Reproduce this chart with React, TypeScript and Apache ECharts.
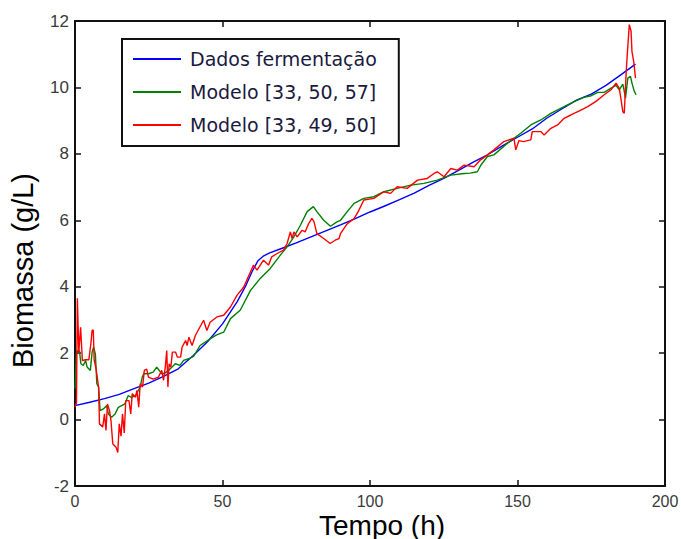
import React, { useEffect, useRef } from "react";
import * as echarts from "echarts";

const seriesNames = ["Dados fermentação", "Modelo [33, 50, 57]", "Modelo [33, 49, 50]"];
const xTicks = [0, 50, 100, 150, 200];
const yTicks = [-2, 0, 2, 4, 6, 8, 10, 12];

const blueT = [0, 5, 10, 15, 20, 25, 30, 35, 40, 45, 50, 55, 58, 60, 62, 64, 66, 70, 75, 80, 85, 90, 95, 100, 105, 110, 115, 120, 125, 130, 135, 140, 145, 150, 155, 160, 165, 170, 175, 180, 185, 190];
const blueY = [0.42, 0.52, 0.63, 0.76, 0.93, 1.1, 1.3, 1.53, 1.92, 2.35, 2.88, 3.55, 4.05, 4.45, 4.78, 4.93, 5.02, 5.15, 5.32, 5.5, 5.68, 5.86, 6.05, 6.25, 6.43, 6.62, 6.82, 7.05, 7.26, 7.5, 7.75, 7.98, 8.25, 8.5, 8.75, 9.08, 9.35, 9.62, 9.8, 10.06, 10.38, 10.7];

const greenT = [0, 0.5, 1.5, 2, 2.8, 3.6, 4.1, 5.2, 5.8, 6.3, 6.9, 7.4, 8, 8.5, 9.6, 10.8, 11.3, 12.4, 13.6, 14.7, 15.8, 16.9, 18, 19.2, 20.5, 21.5, 22.1, 22.8, 23.3, 24.9, 26.5, 27.7, 29.4, 30.5, 31.7, 34, 35.6, 36.8, 38.5, 40.2, 42.4, 45.8, 48, 50.4, 52.7, 56, 59.5, 62.8, 66.2, 69.6, 71.9, 74.2, 76.4, 78.7, 80.8, 82, 84.3, 86.6, 88.8, 90, 92.3, 94.6, 97.9, 101.3, 104.7, 109.2, 113.8, 118.3, 122.8, 127.4, 131.9, 134, 136.4, 137.5, 139.8, 142, 146.6, 148.8, 151.1, 154.5, 157.9, 161.3, 165.8, 169.2, 172.5, 175, 177.2, 179.4, 181.7, 183.4, 184.5, 185.7, 186.2, 186.6, 187.4, 188.3, 188.8, 189.6, 190.2];
const greenY = [0.93, 2.05, 2.08, 1.68, 1.63, 1.78, 1.58, 1.48, 2.03, 2.18, 1.98, 1.08, 0.98, 0.27, 0.32, 0.42, 0.17, 0.07, 0.17, 0.37, 0.42, 0.47, 0.72, 0.67, 0.72, 0.88, 0.98, 1.28, 1.38, 1.38, 1.43, 1.58, 1.38, 1.4, 1.48, 1.68, 1.63, 1.78, 1.83, 1.9, 2.23, 2.43, 2.55, 2.63, 3.04, 3.29, 3.89, 4.25, 4.55, 4.95, 5.2, 5.5, 5.85, 6.26, 6.41, 6.26, 6.0, 5.82, 5.95, 6.0, 6.26, 6.51, 6.66, 6.71, 6.86, 6.96, 7.06, 7.11, 7.21, 7.36, 7.41, 7.42, 7.46, 7.65, 7.92, 7.97, 8.32, 8.47, 8.62, 8.87, 9.02, 9.22, 9.42, 9.57, 9.7, 9.75, 9.85, 9.85, 9.98, 10.06, 9.93, 10.1, 9.88, 9.68, 10.28, 10.33, 10.13, 9.88, 9.78];

const redT = [0, 0.5, 0.8, 1.3, 1.9, 2.5, 3.6, 4.7, 5.4, 5.8, 6.2, 6.5, 7.2, 8, 8.3, 9.4, 10, 10.5, 11, 11.7, 12.2, 12.8, 13.9, 14.5, 15, 15.6, 16.1, 16.7, 17.2, 18.3, 18.9, 19.4, 20.5, 21, 21.6, 22.1, 22.9, 23.5, 24.3, 24.9, 26.5, 28.3, 29.4, 30, 30.6, 31.1, 31.5, 31.9, 32.5, 33, 34.1, 34.7, 35.8, 36.3, 37.5, 38, 38.6, 39.7, 40.8, 43.6, 44.7, 45.8, 48.1, 50.4, 52.7, 54.9, 57.2, 59.5, 60.5, 61.7, 63.9, 65.6, 66.7, 68.5, 70.7, 71.9, 73, 73.6, 74.2, 75.3, 77, 78, 79.2, 80.3, 81, 82, 84.3, 86.5, 88.2, 89.5, 90, 92.3, 94.6, 96, 97.9, 101.3, 104.7, 107, 109.2, 112.6, 116.1, 119.4, 121.7, 122.8, 125.1, 127.4, 129.6, 131.9, 135.3, 137.5, 139.8, 142, 145.4, 148.8, 149.4, 150.5, 152, 154.5, 155, 157.9, 159, 161.3, 163.6, 165.8, 168.1, 171.5, 173.8, 176.6, 179.4, 181.7, 183.4, 184.5, 185.1, 185.7, 186.2, 186.8, 187.2, 187.9, 188.5, 188.8, 189.4, 190];
const redY = [0.37, 0.5, 3.65, 2.03, 2.78, 1.78, 1.8, 1.8, 2.3, 2.69, 2.69, 1.8, 1.5, 0.97, -0.13, -0.22, 0.17, -0.33, 0.47, 0.27, -0.03, -0.73, -0.83, -0.99, -0.13, -0.5, 0.17, -0.4, 0.57, 0.57, 0.17, 0.78, 0.67, 0.88, 0.37, 1.08, 0.98, 1.48, 1.52, 1.28, 1.22, 1.28, 1.48, 1.18, 1.58, 2.08, 0.98, 1.68, 1.58, 2.03, 2.03, 1.88, 1.88, 2.18, 2.38, 2.23, 2.48, 2.23, 2.53, 2.99, 2.68, 2.93, 3.09, 3.14, 3.39, 3.74, 3.99, 4.45, 4.65, 4.5, 4.8, 4.65, 4.9, 5.0, 5.1, 5.3, 5.65, 5.45, 5.65, 5.5, 5.7, 5.65, 5.9, 6.06, 5.96, 5.6, 5.45, 5.3, 5.4, 5.45, 5.6, 5.9, 6.05, 6.26, 6.61, 6.66, 6.86, 6.81, 7.01, 6.96, 7.21, 7.26, 7.41, 7.46, 7.31, 7.56, 7.51, 7.66, 7.61, 7.82, 7.97, 8.12, 8.37, 8.47, 8.12, 8.4, 8.37, 8.42, 8.67, 8.67, 8.57, 8.77, 8.87, 9.07, 9.17, 9.32, 9.42, 9.58, 9.78, 9.93, 10.13, 9.98, 9.63, 9.27, 9.22, 10.38, 10.98, 11.89, 11.69, 11.08, 10.78, 10.28];

const colors = ["#0000ff", "#008000", "#ff0000"];

const pairs = (t: number[], y: number[]) => t.map((v, i) => [v, y[i]]);

export default function App() {
  const ref = useRef<HTMLDivElement>(null);
  useEffect(() => {
    if (!ref.current) return;
    const chart = echarts.init(ref.current, undefined, { renderer: "svg" });
    const axisLine = { show: true, onZero: false, lineStyle: { color: "#111", width: 2 } };
    const tick = { show: true, inside: true, length: 6, lineStyle: { color: "#111", width: 1.5 } };
    const labelStyle = { color: "#3a3a3a", fontSize: 16, lineHeight: 16, fontFamily: "Liberation Sans, Arial, sans-serif" };
    chart.setOption({
      animation: false,
      backgroundColor: "#ffffff",
      grid: { left: 75, right: 16, top: 21, bottom: 53, outerBoundsMode: "none", containLabel: false },
      legend: {
        orient: "vertical",
        left: 122,
        top: 39,
        padding: [10, 22, 11, 11],
        icon: "rect",
        itemWidth: 48,
        itemHeight: 2,
        itemGap: 13,
        borderColor: "#111",
        borderWidth: 2,
        backgroundColor: "#ffffff",
        textStyle: { fontSize: 19, fontFamily: "DejaVu Sans", color: "#1a1a40", lineHeight: 20, padding: [0, 0, 0, 4] },
        data: seriesNames,
      },
      xAxis: [
        {
          type: "value",
          min: xTicks[0],
          max: xTicks[xTicks.length - 1],
          interval: 50,
          name: "Tempo (h)",
          nameLocation: "middle",
          nameGap: 27,
          nameMoveOverlap: false,
          nameTextStyle: { fontSize: 28, lineHeight: 24, color: "#000", fontFamily: "Liberation Sans, Arial, sans-serif", padding: [0, 0, 0, 24] },
          axisLine,
          axisTick: tick,
          axisLabel: { ...labelStyle, margin: 7 },
          splitLine: { show: false },
        },
        {
          type: "value",
          position: "top",
          min: xTicks[0],
          max: xTicks[xTicks.length - 1],
          interval: 50,
          axisLine,
          axisTick: tick,
          axisLabel: { show: false },
          splitLine: { show: false },
        },
      ],
      yAxis: [
        {
          type: "value",
          min: yTicks[0],
          max: yTicks[yTicks.length - 1],
          interval: 2,
          name: "Biomassa (g/L)",
          nameLocation: "middle",
          nameGap: 38,
          nameMoveOverlap: false,
          nameTextStyle: { fontSize: 29, color: "#000", fontFamily: "Liberation Sans, Arial, sans-serif", padding: [0, 34, 0, 0] },
          axisLine,
          axisTick: tick,
          axisLabel: { ...labelStyle, fontSize: 17, margin: 6 },
          splitLine: { show: false },
        },
        {
          type: "value",
          position: "right",
          min: yTicks[0],
          max: yTicks[yTicks.length - 1],
          interval: 2,
          axisLine,
          axisTick: tick,
          axisLabel: { show: false },
          splitLine: { show: false },
        },
      ],
      series: [
        { name: seriesNames[0], type: "line", data: pairs(blueT, blueY), color: colors[0] },
        { name: seriesNames[1], type: "line", data: pairs(greenT, greenY), color: colors[1] },
        { name: seriesNames[2], type: "line", data: pairs(redT, redY), color: colors[2] },
      ].map((s) => ({
        ...s,
        xAxisIndex: 0,
        yAxisIndex: 0,
        symbol: "none",
        showSymbol: false,
        lineStyle: { width: 1.4, color: s.color },
        itemStyle: { color: s.color },
      })),
    });
    return () => chart.dispose();
  }, []);
  return (
    <div style={{ position: "fixed", left: 0, top: 0, width: 681, height: 539, background: "#fff" }}>
      <div ref={ref} style={{ width: 681, height: 539 }} />
    </div>
  );
}
